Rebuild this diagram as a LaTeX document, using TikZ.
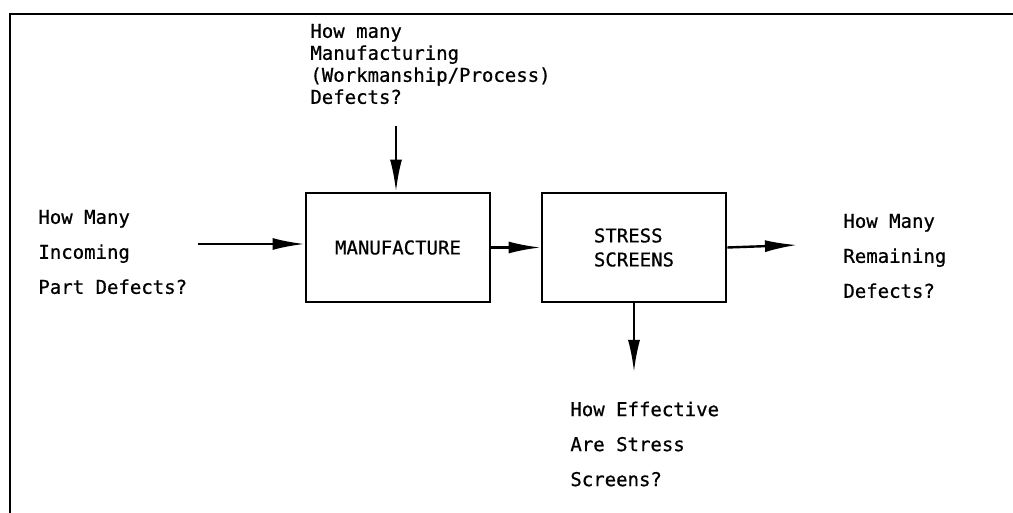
\documentclass[tikz,border=0pt]{standalone}
\usepackage{fontspec}
\newfontfamily\reffont{DejaVu Sans Mono}[FakeBold=0.7]
\usetikzlibrary{arrows.meta}
\begin{document}
\begin{tikzpicture}[x=0.5pt,y=-0.5pt,
  txt/.style={font=\reffont\fontsize{9.5}{17.5}\selectfont, align=left, inner sep=0pt, anchor=west},
  toptxt/.style={font=\reffont\fontsize{9.5}{11}\selectfont, align=left, inner sep=0pt, anchor=west},
  procbox/.style={draw, line width=1.4pt, minimum width=92pt, minimum height=54.5pt, inner sep=0pt,
     font=\reffont\fontsize{9.5}{12}\selectfont, align=left},
  arr/.style={line width=1.2pt, -{Latex[length=16pt,width=6pt]}},
  frameline/.style={line width=1pt}
]
\useasboundingbox (0,0) rectangle (1013,513);
% frame
\coordinate (fbl) at (10,513);
\coordinate (ftl) at (10,14);
\coordinate (ftr) at (1013,14);
\draw[frameline] (fbl) -- (ftl) -- (ftr);

% boxes
\node[procbox] (mfg) at (398,247.5) {MANUFACTURE};
\node[procbox] (stress) at (634,247.5) {STRESS\\SCREENS};

% texts
\node[toptxt] (toptext) at (310,64) {How many\\Manufacturing\\(Workmanship/Process)\\Defects?};
\node[txt] (lefttext) at (38,252) {How Many\\Incoming\\Part Defects?};
\node[txt] (righttext) at (843,256) {How Many\\Remaining\\Defects?};
\node[txt] (bottext) at (570,444) {How Effective\\Are Stress\\Screens?};

% arrow ends
\coordinate (inA) at (198,244);
\coordinate (topA) at (396,126);
\coordinate (outA) at (797,245);
\coordinate (botA) at (634,372);

\draw[arr] (inA) -- (inA -| mfg.west);
\draw[arr] (topA) -- (topA |- mfg.north);
\draw[arr] (mfg.east) -- (stress.west);
\draw[arr] (stress.east) -- (outA);
\draw[arr] (stress.south) -- (botA);
\end{tikzpicture}
\end{document}
